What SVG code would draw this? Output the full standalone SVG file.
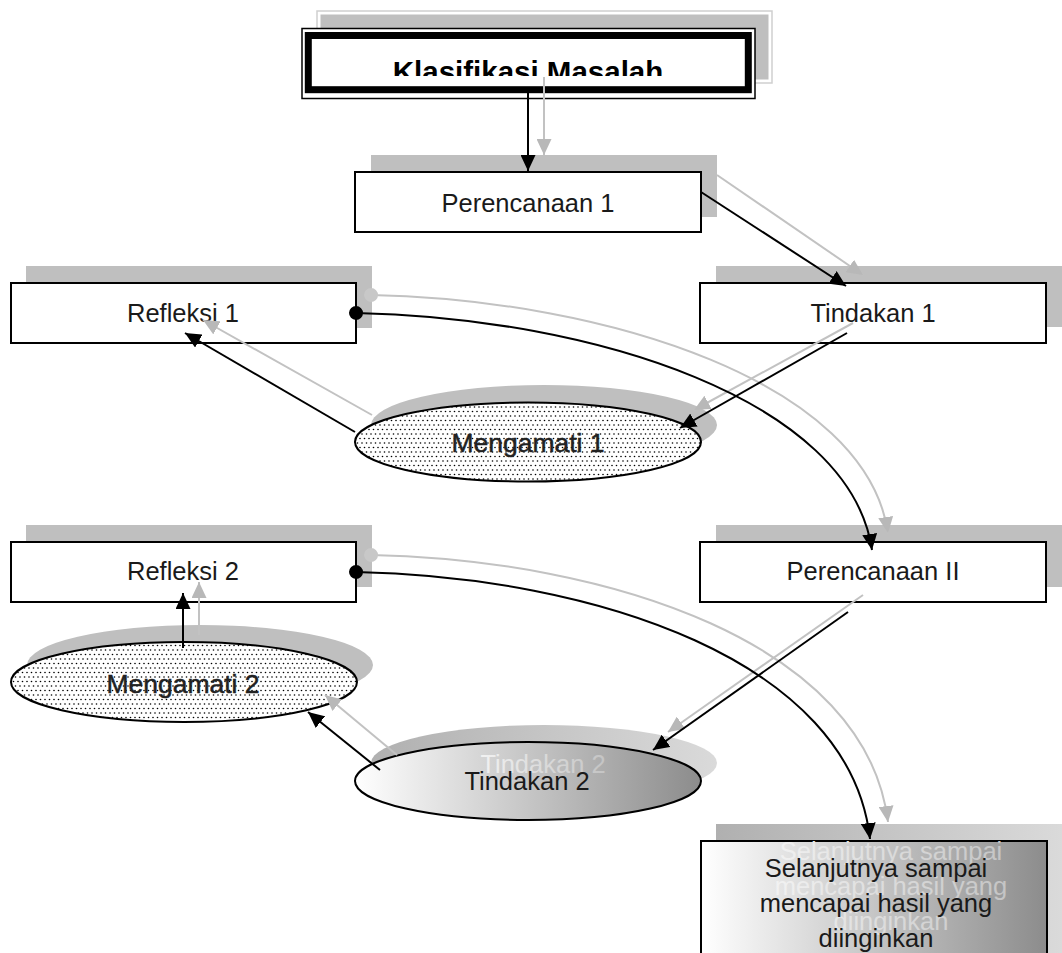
<svg xmlns="http://www.w3.org/2000/svg" width="1062" height="953" viewBox="0 0 1062 953">
<style>
.sh{fill:#bfbfbf}
.box{fill:#fff;stroke:#000;stroke-width:2}
.lbl{font-family:"Liberation Sans",Arial,sans-serif;font-size:25.5px;fill:#1a1a1a;text-anchor:middle}
.mg{font-family:"Liberation Sans",Arial,sans-serif;font-size:26.5px;fill:#222;stroke:#222;stroke-width:0.5;text-anchor:middle}
.ghost{font-family:"Liberation Sans",Arial,sans-serif;font-size:25.5px;fill:url(#gGhost);text-anchor:middle}
.bk{fill:none;stroke:#000;stroke-width:2;marker-end:url(#ab)}
.gy{fill:none;stroke:#c2c2c2;stroke-width:2;marker-end:url(#ag)}
</style>
<defs>
<marker id="ab" markerUnits="userSpaceOnUse" markerWidth="17" markerHeight="15" refX="16" refY="7.5" orient="auto"><path d="M0,0 L16,7.5 L0,15 z" fill="#000"/></marker>
<marker id="ag" markerUnits="userSpaceOnUse" markerWidth="17" markerHeight="15" refX="16" refY="7.5" orient="auto"><path d="M0,0 L16,7.5 L0,15 z" fill="#b8b8b8"/></marker>
<marker id="db" markerUnits="userSpaceOnUse" markerWidth="16" markerHeight="16" refX="8" refY="8" orient="auto"><circle cx="8" cy="8" r="7" fill="#000"/></marker>
<marker id="dg" markerUnits="userSpaceOnUse" markerWidth="16" markerHeight="16" refX="8" refY="8" orient="auto"><circle cx="8" cy="8" r="7" fill="#c8c8c8"/></marker>
<pattern id="dots" patternUnits="userSpaceOnUse" width="9" height="9">
<rect width="9" height="9" fill="#fff"/>
<circle cx="2" cy="2" r="0.8" fill="#000"/><circle cx="6.5" cy="2" r="0.8" fill="#000"/>
<circle cx="0" cy="6.5" r="0.8" fill="#000"/><circle cx="4.5" cy="6.5" r="0.8" fill="#000"/><circle cx="9" cy="6.5" r="0.8" fill="#000"/>
</pattern>
<linearGradient id="gMain" x1="0" y1="0" x2="1" y2="0"><stop offset="0" stop-color="#ffffff"/><stop offset="1" stop-color="#8c8c8c"/></linearGradient>
<linearGradient id="gShadow" x1="0" y1="0" x2="1" y2="0"><stop offset="0" stop-color="#b0b0b0"/><stop offset="1" stop-color="#dadada"/></linearGradient>
<linearGradient id="gGhost" x1="0" y1="0" x2="1" y2="0"><stop offset="0" stop-color="#f2f2f2"/><stop offset="1" stop-color="#c4c4c4"/></linearGradient>
<clipPath id="titleClip"><rect x="312" y="39" width="433" height="37"/></clipPath>
</defs>

<g id="title">
<rect x="317" y="11" width="455" height="72" fill="#fff" stroke="#cfcfcf" stroke-width="1.5"/>
<rect x="320.5" y="14.5" width="448" height="65" class="sh"/>
<rect x="302" y="28.5" width="453" height="70" fill="#fff" stroke="#000" stroke-width="1.5"/>
<rect x="308.3" y="35.5" width="440" height="54.2" fill="#fff" stroke="#000" stroke-width="7"/>
<text x="528" y="82" clip-path="url(#titleClip)" font-family="'Liberation Sans',Arial,sans-serif" font-size="29.5" font-weight="bold" text-anchor="middle" fill="#000">Klasifikasi Masalah</text>
</g>

<g id="perencanaan1">
<rect x="371" y="155" width="346" height="62" class="sh"/>
<rect x="355" y="172" width="346" height="60" class="box"/>
<text x="528" y="212" class="lbl">Perencanaan 1</text>
</g>

<g id="tindakan1">
<rect x="716" y="266" width="346" height="61" class="sh"/>
<rect x="700" y="283" width="346" height="60" class="box"/>
<text x="873" y="322" class="lbl">Tindakan 1</text>
</g>

<g id="refleksi1">
<rect x="26" y="266" width="346" height="62" class="sh"/>
<rect x="11" y="283" width="345" height="60" class="box"/>
<text x="183" y="322" class="lbl">Refleksi 1</text>
</g>

<g id="mengamati1">
<ellipse cx="544" cy="425" rx="173" ry="40" class="sh"/>
<ellipse cx="528" cy="442" rx="173" ry="39.5" fill="url(#dots)" stroke="#000" stroke-width="2"/>
<text x="528" y="452" class="mg">Mengamati 1</text>
</g>

<g id="perencanaan2">
<rect x="716" y="525" width="346" height="62" class="sh"/>
<rect x="700" y="542" width="346" height="60" class="box"/>
<text x="873" y="580" class="lbl">Perencanaan II</text>
</g>

<g id="refleksi2">
<rect x="26" y="525" width="346" height="62" class="sh"/>
<rect x="11" y="542" width="345" height="60" class="box"/>
<text x="183" y="580" class="lbl">Refleksi 2</text>
</g>

<g id="mengamati2">
<ellipse cx="200" cy="665" rx="173" ry="40" class="sh"/>
<ellipse cx="184" cy="682" rx="173" ry="40" fill="url(#dots)" stroke="#000" stroke-width="2"/>
<text x="183" y="693" class="mg">Mengamati 2</text>
</g>

<g id="tindakan2">
<ellipse cx="544" cy="763" rx="173" ry="38" fill="url(#gShadow)"/>
<ellipse cx="528" cy="781" rx="173" ry="39" fill="url(#gMain)" stroke="#000" stroke-width="2"/>
<text x="543" y="773" class="ghost">Tindakan 2</text>
<text x="527" y="790" class="lbl">Tindakan 2</text>
</g>

<g id="selanjutnya">
<rect x="716" y="824" width="346" height="140" fill="url(#gShadow)"/>
<rect x="701" y="841" width="346" height="130" fill="url(#gMain)" stroke="#000" stroke-width="2"/>
<text class="ghost"><tspan x="891" y="860">Selanjutnya sampai</tspan><tspan x="891" y="895">mencapai hasil yang</tspan><tspan x="891" y="930">diinginkan</tspan></text>
<text class="lbl"><tspan x="876" y="877">Selanjutnya sampai</tspan><tspan x="876" y="912">mencapai hasil yang</tspan><tspan x="876" y="947">diinginkan</tspan></text>
</g>

<g id="connectors">
<path class="gy" d="M544,77 L544,155"/>
<path class="gy" d="M717,175 L863,275"/>
<path class="gy" d="M853,323 L694,410"/>
<path class="gy" d="M372,415 L203,320"/>
<path class="gy" d="M371,295 C609,300 866,383 888,533" style="marker-start:url(#dg)"/>
<path class="gy" d="M863,595 L668,732"/>
<path class="gy" d="M397,755 L325,695"/>
<path class="gy" d="M199,635 L199,582"/>
<path class="gy" d="M371,555 C609,560 866,643 888,822" style="marker-start:url(#dg)"/>

<path class="bk" d="M528,93 L528,171"/>
<path class="bk" d="M701,192 L846,286"/>
<path class="bk" d="M847,333 L680,428"/>
<path class="bk" d="M355,432 L185,333"/>
<path class="bk" d="M356,313 C594,318 850,400 872,550" style="marker-start:url(#db)"/>
<path class="bk" d="M848,612 L653,750"/>
<path class="bk" d="M380,770 L308,712"/>
<path class="bk" d="M183,648 L183,593"/>
<path class="bk" d="M356,572 C594,577 850,660 870,839" style="marker-start:url(#db)"/>
</g>
</svg>
